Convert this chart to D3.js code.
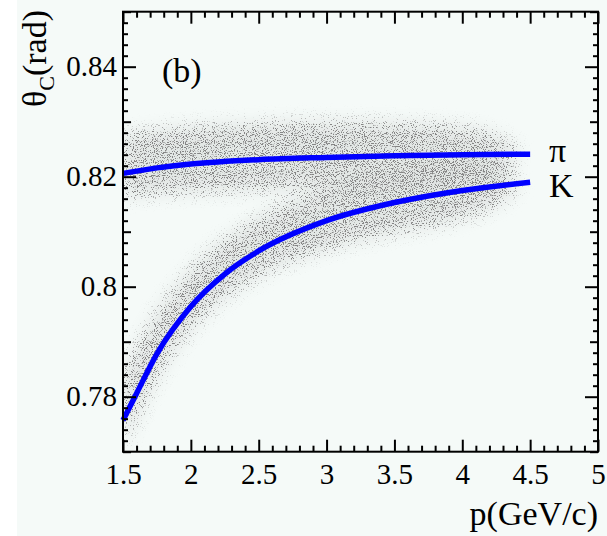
<!DOCTYPE html>
<html>
<head>
<meta charset="utf-8">
<script src="https://cdn.jsdelivr.net/npm/d3@7"></script>
<style>
  html, body { margin: 0; padding: 0; background: #ffffff; }
  svg { display: block; }
  text { font-family: "Liberation Serif", "Times New Roman", Times, serif; fill: #000; }
  .axis line { stroke: #000; stroke-width: 2; }
  .axis path { display: none; }
</style>
</head>
<body>
<svg id="chart" width="607" height="536"></svg>
<script>
// Momentum grid and fitted Cherenkov angle for pions and kaons.
const pionP = [1.5, 1.75, 2, 2.5, 3, 3.5, 4, 4.5];
const pionTheta = [0.8206, 0.8216, 0.8223, 0.8231, 0.8235, 0.8238, 0.8240, 0.8241];

const kaonP = [1.5, 1.6, 1.75, 2, 2.25, 2.5, 3, 3.5, 4, 4.5];
const kaonTheta = [0.7757, 0.7806, 0.7878, 0.7964, 0.8023, 0.8065, 0.8120, 0.8153, 0.8175, 0.8190];

const bandP = [1.5, 1.75, 2, 2.5, 3, 3.5, 4, 4.25, 4.4];
const pionBandMid = [0.8220, 0.8227, 0.8231, 0.8236, 0.8239, 0.8240, 0.8240, 0.8240, 0.8240];
const pionBandHalf = [0.0058, 0.0059, 0.0060, 0.0061, 0.0061, 0.0058, 0.0051, 0.0036, 0.0014];
const kaonBandMid = [0.7775, 0.7893, 0.7976, 0.8072, 0.8122, 0.8152, 0.8173, 0.8181, 0.8186];
const kaonBandHalf = [0.0068, 0.0060, 0.0055, 0.0054, 0.0055, 0.0055, 0.0050, 0.0034, 0.0012];

const xTicks = [1.5, 2, 2.5, 3, 3.5, 4, 4.5, 5];
const xTickLabels = ['1.5', '2', '2.5', '3', '3.5', '4', '4.5', '5'];
const yTicks = [0.78, 0.8, 0.82, 0.84];
const yTickLabels = ['0.78', '0.8', '0.82', '0.84'];

const svg = d3.select('#chart');

const plotLeft = 123, plotRight = 598, plotTop = 11.7, plotBottom = 451.7;

let x = d3.scaleLinear().domain([1.5, 5]).range([plotLeft, plotRight]);
let y = d3.scaleLinear().domain([0.77, 0.85]).range([plotBottom, plotTop]);

// Pale page background (white strip at the left edge like the original).
svg.append('rect')
  .attr('x', 17).attr('y', 0)
  .attr('width', 590).attr('height', 536)
  .attr('fill', '#f5faf8');

// Speckle filter: blur the band shapes into a density, then threshold against noise.
let defs = svg.append('defs');
let filter = defs.append('filter')
  .attr('id', 'speckle')
  .attr('filterUnits', 'userSpaceOnUse')
  .attr('x', plotLeft).attr('y', plotTop)
  .attr('width', plotRight - plotLeft).attr('height', plotBottom - plotTop)
  .attr('color-interpolation-filters', 'sRGB');
filter.append('feGaussianBlur')
  .attr('in', 'SourceAlpha').attr('stdDeviation', 8).attr('result', 'dens');
filter.append('feTurbulence')
  .attr('type', 'fractalNoise').attr('baseFrequency', 0.9)
  .attr('numOctaves', 2).attr('seed', 7).attr('result', 'turb');
filter.append('feColorMatrix')
  .attr('in', 'turb').attr('type', 'matrix')
  .attr('values', '0 0 0 0 0  0 0 0 0 0  0 0 0 0 0  2.6 0 0 0 -0.8')
  .attr('result', 'noise');
filter.append('feComposite')
  .attr('in', 'dens').attr('in2', 'noise')
  .attr('operator', 'arithmetic')
  .attr('k1', 0).attr('k2', 2.2).attr('k3', -4).attr('k4', 0)
  .attr('result', 'dots');
filter.append('feColorMatrix')
  .attr('in', 'dens').attr('type', 'matrix')
  .attr('values', '0 0 0 0 0  0 0 0 0 0  0 0 0 0 0  0 0 0 0.45 0')
  .attr('result', 'haze');
filter.append('feFlood').attr('flood-color', '#c2c4c3').attr('result', 'hazeInk');
filter.append('feComposite').attr('in', 'hazeInk').attr('in2', 'haze')
  .attr('operator', 'in').attr('result', 'hazeLayer');
filter.append('feFlood').attr('flood-color', '#858585').attr('result', 'dotInk');
filter.append('feComposite').attr('in', 'dotInk').attr('in2', 'dots')
  .attr('operator', 'in').attr('result', 'dotLayer');
let merge = filter.append('feMerge');
merge.append('feMergeNode').attr('in', 'hazeLayer');
merge.append('feMergeNode').attr('in', 'dotLayer');

defs.append('clipPath').attr('id', 'plot-clip')
  .append('rect')
    .attr('x', plotLeft).attr('y', plotTop)
    .attr('width', plotRight - plotLeft).attr('height', plotBottom - plotTop);

let band = d3.area()
  .x(d => x(d[0]))
  .y0(d => y(d[1] - d[2]))
  .y1(d => y(d[1] + d[2]))
  .curve(d3.curveMonotoneX);

let scatter = svg.append('g')
  .attr('clip-path', 'url(#plot-clip)')
  .append('g')
    .attr('filter', 'url(#speckle)');

scatter.append('path')
  .datum(d3.zip(bandP, pionBandMid, pionBandHalf))
  .attr('d', band)
  .attr('fill', '#000')
  .attr('fill-opacity', 0.75);

scatter.append('path')
  .datum(d3.zip(bandP, kaonBandMid, kaonBandHalf))
  .attr('d', band)
  .attr('fill', '#000')
  .attr('fill-opacity', 0.75);

// Expected angle curves.
let line = d3.line()
  .x(d => x(d[0]))
  .y(d => y(d[1]))
  .curve(d3.curveMonotoneX);

[[pionP, pionTheta], [kaonP, kaonTheta]].forEach(([ps, ts]) => {
  svg.append('path')
    .datum(d3.zip(ps, ts))
    .attr('d', line)
    .attr('fill', 'none')
    .attr('stroke', '#0000ff')
    .attr('stroke-width', 5.5);
});

// Axes: ticks point inward on all four sides.
function addAxis(axis, transform) {
  svg.append('g')
    .attr('class', 'axis')
    .attr('transform', transform)
    .call(axis);
}

let xMinor = d3.range(15, 51).map(d => d / 10).filter(d => !xTicks.includes(d));
let yMinor = d3.range(385, 426).map(d => d / 500).filter(d => Math.round(d * 1000) % 10 !== 0);
let yMid = [0.77, 0.79, 0.81, 0.83, 0.85];

addAxis(d3.axisBottom(x).tickValues(xTicks).tickSize(-12).tickPadding(12)
  .tickFormat((d, i) => xTickLabels[i]), `translate(0,${plotBottom})`);
addAxis(d3.axisBottom(x).tickValues(xMinor).tickSize(-6).tickFormat(''), `translate(0,${plotBottom})`);
addAxis(d3.axisTop(x).tickValues(xTicks).tickSize(-12).tickFormat(''), `translate(0,${plotTop})`);
addAxis(d3.axisTop(x).tickValues(xMinor).tickSize(-6).tickFormat(''), `translate(0,${plotTop})`);

addAxis(d3.axisLeft(y).tickValues(yTicks).tickSize(-13).tickPadding(6)
  .tickFormat((d, i) => yTickLabels[i]), `translate(${plotLeft},0)`);
addAxis(d3.axisLeft(y).tickValues(yMid).tickSize(-8).tickFormat(''), `translate(${plotLeft},0)`);
addAxis(d3.axisLeft(y).tickValues(yMinor).tickSize(-5).tickFormat(''), `translate(${plotLeft},0)`);
addAxis(d3.axisRight(y).tickValues(yTicks).tickSize(-13).tickFormat(''), `translate(${plotRight},0)`);
addAxis(d3.axisRight(y).tickValues(yMid).tickSize(-8).tickFormat(''), `translate(${plotRight},0)`);
addAxis(d3.axisRight(y).tickValues(yMinor).tickSize(-5).tickFormat(''), `translate(${plotRight},0)`);

svg.selectAll('.axis').attr('font-family', null).attr('font-size', null);
svg.selectAll('.axis text')
  .style('font-size', '29px')
  .attr('fill', '#000');

svg.append('rect')
  .attr('x', plotLeft).attr('y', plotTop)
  .attr('width', plotRight - plotLeft).attr('height', plotBottom - plotTop)
  .attr('fill', 'none')
  .attr('stroke', '#000')
  .attr('stroke-width', 2);

// Titles and labels.
svg.append('text')
  .attr('x', plotRight).attr('y', 525)
  .attr('text-anchor', 'end')
  .style('font-size', '34px')
  .text('p(GeV/c)');

let yTitle = svg.append('text')
  .attr('transform', 'translate(46,10) rotate(-90)')
  .attr('text-anchor', 'end')
  .style('font-size', '34px');
yTitle.append('tspan').text('θ');
yTitle.append('tspan').attr('dy', 8).style('font-size', '22px').text('C');
yTitle.append('tspan').attr('dy', -8).text('(rad)');

svg.append('text')
  .attr('x', 162).attr('y', 82)
  .style('font-size', '34px')
  .text('(b)');

svg.append('text')
  .attr('x', 549).attr('y', 162)
  .style('font-size', '34px')
  .text('π');

svg.append('text')
  .attr('x', 549).attr('y', 197)
  .style('font-size', '34px')
  .text('K');
</script>
</body>
</html>
